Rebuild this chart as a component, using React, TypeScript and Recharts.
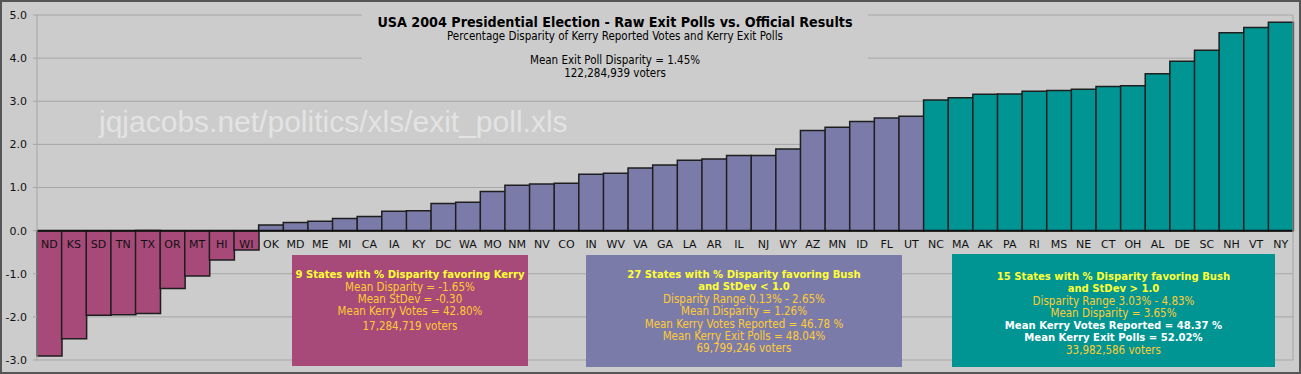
import React from 'react';
import { BarChart, Bar, XAxis, YAxis, CartesianGrid, ReferenceLine, Cell } from 'recharts';

// ---- Data ----
const states = ['ND','KS','SD','TN','TX','OR','MT','HI','WI','OK','MD','ME','MI','CA','IA','KY','DC','WA','MO','NM','NV','CO','IN','WV','VA','GA','LA','AR','IL','NJ','WY','AZ','MN','ID','FL','UT','NC','MA','AK','PA','RI','MS','NE','CT','OH','AL','DE','SC','NH','VT','NY'];
const disparity = [-2.91,-2.51,-1.96,-1.95,-1.92,-1.34,-1.05,-0.68,-0.45,0.13,0.19,0.22,0.28,0.33,0.45,0.46,0.63,0.66,0.91,1.05,1.08,1.10,1.31,1.33,1.45,1.52,1.63,1.66,1.74,1.74,1.89,2.32,2.40,2.53,2.61,2.65,3.03,3.08,3.16,3.17,3.23,3.25,3.28,3.34,3.36,3.64,3.93,4.18,4.59,4.71,4.83];
const groupCounts = [9, 27, 15];
const groupColors = ['#A74A79', '#7B7BAA', '#009593'];
const yTicks = [-3, -2, -1, 0, 1, 2, 3, 4, 5];

const titleText = 'USA 2004 Presidential Election - Raw Exit Polls vs. Official Results';
const subtitleText = 'Percentage Disparity of Kerry Reported Votes and Kerry Exit Polls';
const meanLines = ['Mean Exit Poll Disparity = 1.45%', '122,284,939 voters'];
const watermark = 'jqjacobs.net/politics/xls/exit_poll.xls';

type Line = { t: string; c: 'y' | 'o' | 'w'; gap?: number };
const box1Lines: Line[] = [
  { t: '9 States with % Disparity favoring Kerry', c: 'y' },
  { t: 'Mean Disparity = -1.65%', c: 'o' },
  { t: 'Mean StDev = -0.30', c: 'o' },
  { t: 'Mean Kerry Votes = 42.80%', c: 'o' },
  { t: '17,284,719 voters', c: 'o', gap: 3 },
];
const box2Lines: Line[] = [
  { t: '27 States with % Disparity favoring Bush', c: 'y' },
  { t: 'and StDev < 1.0', c: 'y' },
  { t: 'Disparity Range 0.13% - 2.65%', c: 'o' },
  { t: 'Mean Disparity = 1.26%', c: 'o' },
  { t: 'Mean Kerry Votes Reported = 46.78 %', c: 'o', gap: 1 },
  { t: 'Mean Kerry Exit Polls = 48.04%', c: 'o' },
  { t: '69,799,246 voters', c: 'o' },
];
const box3Lines: Line[] = [
  { t: '15 States with % Disparity favoring Bush', c: 'y' },
  { t: 'and StDev > 1.0', c: 'y' },
  { t: 'Disparity Range 3.03% - 4.83%', c: 'o' },
  { t: 'Mean Disparity = 3.65%', c: 'o' },
  { t: 'Mean Kerry Votes Reported = 48.37 %', c: 'w', gap: 1 },
  { t: 'Mean Kerry Exit Polls = 52.02%', c: 'w' },
  { t: '33,982,586 voters', c: 'o' },
];

const groupOf = (i: number) => {
  let acc = 0;
  for (let g = 0; g < groupCounts.length; g++) {
    acc += groupCounts[g];
    if (i < acc) return g;
  }
  return groupCounts.length - 1;
};

const data = states.map((s, i) => ({ state: s, value: disparity[i], group: groupOf(i) }));

// ---- Layout ----
const W = 1301;
const H = 374;
const X_AXIS_H = 14;
const M = { top: 15, right: 0, bottom: 0, left: 0 };
const Y_MIN = -3;
const Y_MAX = 5;
const PLOT_H = H - M.top - M.bottom - X_AXIS_H;
const ZERO_Y = M.top + (PLOT_H * Y_MAX) / (Y_MAX - Y_MIN);

const VERD = '"DejaVu Sans", Verdana, sans-serif';
const NARROW = '"DejaVu Sans Condensed", Tahoma, "DejaVu Sans", sans-serif';

const StateTick = (props: any) => {
  const { x, payload } = props;
  return (
    <text x={x} y={ZERO_Y + 17} textAnchor="middle" fontSize={11} fontFamily={VERD} fill="#111">
      {payload.value}
    </text>
  );
};

const colorMap = { y: '#FFFF33', o: '#FFCC33', w: '#FFFFFF' };

const StatBox = ({ left, top, width, height, bg, padTop, lines }: any) => (
  <div
    style={{
      position: 'absolute', left, top, width, height, background: bg,
      boxSizing: 'border-box', paddingTop: padTop, textAlign: 'center',
      fontFamily: NARROW, lineHeight: '12px',
    }}
  >
    {lines.map((l: Line, i: number) => (
      <div
        key={i}
        style={{
          color: colorMap[l.c], fontWeight: l.c === 'o' ? 'normal' : 'bold',
          fontSize: l.c === 'o' ? 11.5 : 11.2,
          marginTop: l.gap || 0, whiteSpace: 'nowrap',
        }}
      >
        {l.t}
      </div>
    ))}
  </div>
);

export default function App() {
  return (
    <div style={{ position: 'absolute', left: 0, top: 0, width: W, height: H, background: '#CCCCCC', overflow: 'hidden' }}>
      <BarChart width={W} height={H} data={data} margin={M} barCategoryGap={0}>
        <CartesianGrid horizontal vertical={false} stroke="#A6A6A6" strokeWidth={1} />
        <XAxis dataKey="state" interval={0} height={X_AXIS_H} axisLine={false} tickLine={false} tick={<StateTick />} />
        <YAxis
          domain={[Y_MIN, Y_MAX]} ticks={yTicks} width={37} interval={0}
          tickFormatter={(v: number) => v.toFixed(1)}
          axisLine={{ stroke: '#A6A6A6' }} tickLine={{ stroke: '#A6A6A6' }} tickSize={4} tickMargin={6}
          tick={{ fontSize: 11, fontFamily: VERD, fill: '#111' }}
        />
        <YAxis
          yAxisId="r" orientation="right" domain={[Y_MIN, Y_MAX]} width={8} tick={false} tickLine={false}
          axisLine={{ stroke: '#A6A6A6' }}
        />
        <Bar dataKey="value" stroke="#1E1E1E" strokeWidth={1.5} isAnimationActive={false}>
          {data.map((d, i) => (
            <Cell key={i} fill={groupColors[d.group]} />
          ))}
        </Bar>
        <ReferenceLine y={0} stroke="#111" strokeWidth={2} />
      </BarChart>

      {/* title box */}
      <div style={{ position: 'absolute', left: 362, top: 8, width: 506, height: 86, background: '#CCCCCC', textAlign: 'center', color: '#000' }}>
        <div style={{ fontFamily: NARROW, fontWeight: 'bold', fontSize: 14.2, lineHeight: '16px', marginTop: 6, whiteSpace: 'nowrap' }}>{titleText}</div>
        <div style={{ fontFamily: NARROW, fontSize: 11.5, lineHeight: '12px', whiteSpace: 'nowrap' }}>{subtitleText}</div>
        <div style={{ fontFamily: NARROW, fontSize: 11.5, lineHeight: '13px', marginTop: 12 }}>
          {meanLines.map((t, i) => <div key={i}>{t}</div>)}
        </div>
      </div>

      {/* watermark */}
      <div style={{ position: 'absolute', left: 99, top: 105, fontFamily: '"Liberation Sans", Arial, sans-serif', fontSize: 30, lineHeight: '34px', color: '#E3E3E3', whiteSpace: 'nowrap' }}>
        {watermark}
      </div>

      <StatBox left={292} top={255} width={236} height={111} bg="#A74A79" padTop={14} lines={box1Lines} />
      <StatBox left={586} top={255} width={316} height={112} bg="#7B7BAA" padTop={14} lines={box2Lines} />
      <StatBox left={952} top={254} width={323} height={113} bg="#009593" padTop={17} lines={box3Lines} />

      {/* outer frame */}
      <div style={{ position: 'absolute', left: 0, top: 0, width: W, height: H, boxSizing: 'border-box', border: '2px solid #555', pointerEvents: 'none' }} />
    </div>
  );
}
